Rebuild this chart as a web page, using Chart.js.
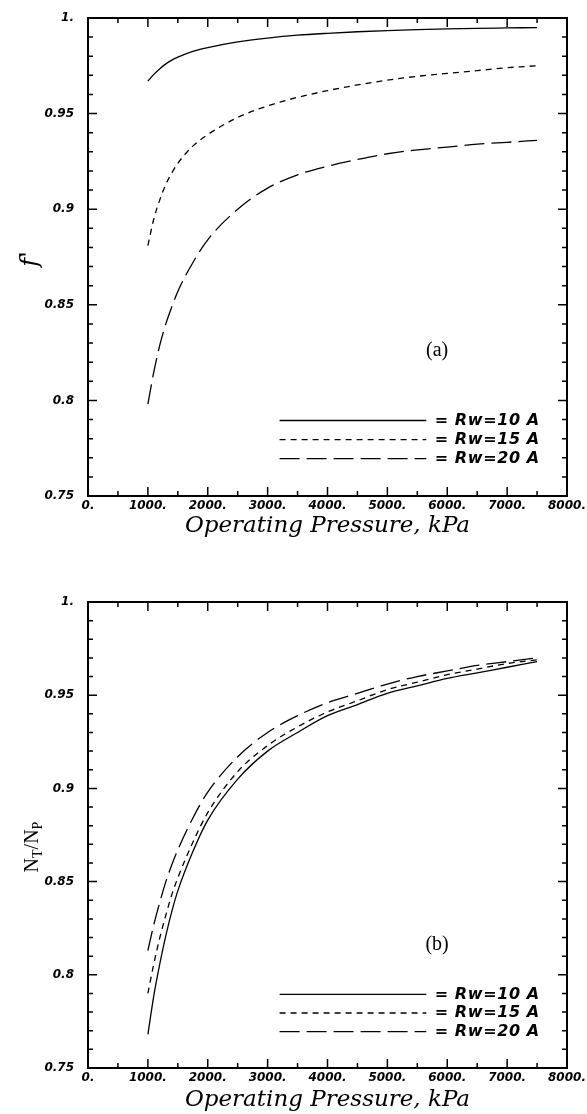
<!DOCTYPE html>
<html lang="en">
<head>
<meta charset="UTF-8">
<title>Operating pressure charts</title>
<script src="https://cdn.jsdelivr.net/npm/chart.js"></script>
<style>
  body { margin: 0; background: #fff; }
  .wrap { position: absolute; left: 0; width: 587px; }
</style>
</head>
<body>
<div class="wrap" style="top:0"><canvas id="chartA" width="587" height="550"></canvas></div>
<div class="wrap" style="top:555px"><canvas id="chartB" width="587" height="559"></canvas></div>

<script>
// operating pressure, kPa
const pressure = [1000, 1100, 1200, 1300, 1400, 1500, 1750, 2000, 2500, 3000, 3500, 4000, 4500, 5000, 5500, 6000, 6500, 7000, 7500];

// (a) f'
const fRw10 = [0.967, 0.9705, 0.9735, 0.976, 0.978, 0.9795, 0.9825, 0.9845, 0.9875, 0.9895, 0.991, 0.992, 0.9928, 0.9934, 0.9939, 0.9943, 0.9946, 0.9948, 0.995];
const fRw15 = [0.881, 0.895, 0.905, 0.913, 0.919, 0.924, 0.933, 0.939, 0.948, 0.954, 0.9585, 0.962, 0.965, 0.9675, 0.9695, 0.971, 0.9725, 0.974, 0.975];
const fRw20 = [0.798, 0.815, 0.829, 0.840, 0.849, 0.857, 0.872, 0.884, 0.900, 0.911, 0.918, 0.9225, 0.926, 0.929, 0.931, 0.9325, 0.934, 0.935, 0.936];

// (b) NT/NP
const nRw10 = [0.768, 0.789, 0.806, 0.821, 0.834, 0.845, 0.866, 0.883, 0.905, 0.920, 0.930, 0.939, 0.945, 0.951, 0.955, 0.959, 0.962, 0.965, 0.968];
const nRw15 = [0.790, 0.806, 0.820, 0.832, 0.843, 0.852, 0.871, 0.887, 0.909, 0.923, 0.933, 0.941, 0.947, 0.953, 0.957, 0.961, 0.964, 0.967, 0.969];
const nRw20 = [0.813, 0.827, 0.839, 0.850, 0.859, 0.867, 0.884, 0.898, 0.917, 0.930, 0.939, 0.946, 0.951, 0.956, 0.960, 0.963, 0.966, 0.968, 0.970];

const seriesNames = ['Rw=10 A', 'Rw=15 A', 'Rw=20 A'];
const dashes = [[], [6, 5], [20, 7]];

const tickFont = { family: 'DejaVu Sans', size: 12, style: 'italic', weight: 'bold' };

function pts(ys) {
  return pressure.map((p, i) => ({ x: p, y: ys[i] }));
}

// frame, inward ticks, legend, panel tag and y title
const decor = {
  id: 'decor',
  afterDraw(chart) {
    const { ctx, chartArea: a, scales: { x, y } } = chart;
    const o = chart.options.plugins.decor;
    ctx.save();
    ctx.strokeStyle = '#000';
    ctx.lineWidth = 2;
    ctx.strokeRect(a.left, a.top, a.right - a.left, a.bottom - a.top);

    ctx.lineWidth = 1.5;
    ctx.beginPath();
    for (let v = 0; v <= 8000; v += 500) {
      const px = x.getPixelForValue(v);
      const len = v % 1000 === 0 ? 9 : 5;
      ctx.moveTo(px, a.bottom); ctx.lineTo(px, a.bottom - len);
      ctx.moveTo(px, a.top); ctx.lineTo(px, a.top + len);
    }
    for (let k = 75; k <= 100; k++) {
      const py = y.getPixelForValue(k / 100);
      const len = k % 5 === 0 ? 9 : 5;
      ctx.moveTo(a.left, py); ctx.lineTo(a.left + len, py);
      ctx.moveTo(a.right, py); ctx.lineTo(a.right - len, py);
    }
    ctx.stroke();

    // legend
    const rows = [0.7895, 0.7795, 0.7695];
    ctx.font = 'italic bold 16px "DejaVu Sans"';
    ctx.letterSpacing = '0.6px';
    ctx.textBaseline = 'middle';
    ctx.fillStyle = '#000';
    rows.forEach((r, i) => {
      const py = y.getPixelForValue(r);
      ctx.lineWidth = 1.3;
      ctx.setLineDash(dashes[i]);
      ctx.beginPath();
      ctx.moveTo(x.getPixelForValue(3200), py);
      ctx.lineTo(x.getPixelForValue(5650), py);
      ctx.stroke();
      ctx.setLineDash([]);
      ctx.fillText('= ' + seriesNames[i], x.getPixelForValue(5790), py);
    });
    ctx.letterSpacing = '0px';

    // panel tag
    ctx.font = '20px "Liberation Serif"';
    ctx.textAlign = 'center';
    ctx.fillText(o.tag, x.getPixelForValue(5830), y.getPixelForValue(o.tagY));

    // y title
    ctx.translate(o.titleX, (a.top + a.bottom) / 2 + o.titleDy);
    ctx.rotate(-Math.PI / 2);
    ctx.textAlign = 'left';
    if (o.kind === 'f') {
      ctx.font = 'italic 24px "DejaVu Serif"';
      const w = ctx.measureText("f'").width;
      ctx.fillText("f'", -w / 2, 0);
    } else {
      const big = '20px "Liberation Serif"', small = '14px "Liberation Serif"';
      const parts = [['N', big, 0], ['T', small, 5], ['/N', big, 0], ['P', small, 5]];
      let w = 0;
      parts.forEach(p => { ctx.font = p[1]; w += ctx.measureText(p[0]).width; });
      let cx = -w / 2;
      parts.forEach(p => {
        ctx.font = p[1];
        ctx.fillText(p[0], cx, p[2]);
        cx += ctx.measureText(p[0]).width;
      });
    }
    ctx.restore();
  }
};

function makeChart(id, data, opts) {
  return new Chart(document.getElementById(id), {
    type: 'line',
    data: {
      datasets: data.map((ys, i) => ({
        label: seriesNames[i],
        data: pts(ys),
        borderColor: '#000',
        borderWidth: 1.3,
        borderDash: dashes[i],
        pointRadius: 0,
        fill: false,
        cubicInterpolationMode: 'monotone'
      }))
    },
    options: {
      responsive: false,
      animation: false,
      layout: { padding: { left: 0, right: 20, top: opts.top, bottom: 0 } },
      plugins: {
        legend: { display: false },
        tooltip: { enabled: false },
        decor: opts.decor
      },
      scales: {
        x: {
          type: 'linear', min: 0, max: 8000,
          grid: { display: false }, border: { display: false },
          ticks: {
            stepSize: 1000, autoSkip: false, maxRotation: 0, padding: -5,
            color: '#000', font: tickFont,
            callback: v => v + '.'
          },
          title: {
            display: true, text: 'Operating Pressure, kPa', color: '#000',
            font: { family: 'DejaVu Serif', size: 23, style: 'italic' },
            padding: { top: 0, bottom: opts.titlePad }
          },
          afterFit: s => { s.height = opts.xHeight; }
        },
        y: {
          min: 0.75, max: 1.0,
          grid: { display: false }, border: { display: false },
          ticks: {
            stepSize: 0.05, autoSkip: false, padding: 6,
            color: '#000', font: tickFont,
            callback: v => {
              const r = Math.round(v * 100);
              return r === 100 ? '1.' : String(r / 100);
            }
          },
          afterFit: s => { s.width = 88; }
        }
      }
    },
    plugins: [decor]
  });
}

makeChart('chartA', [fRw10, fRw15, fRw20], {
  top: 18, xHeight: 54, titlePad: 10,
  decor: { tag: '(a)', tagY: 0.826, kind: 'f', titleX: 31, titleDy: 2 }
});

makeChart('chartB', [nRw10, nRw15, nRw20], {
  top: 47, xHeight: 46, titlePad: 0,
  decor: { tag: '(b)', tagY: 0.816, kind: 'n', titleX: 33, titleDy: 12 }
});
</script>
</body>
</html>
